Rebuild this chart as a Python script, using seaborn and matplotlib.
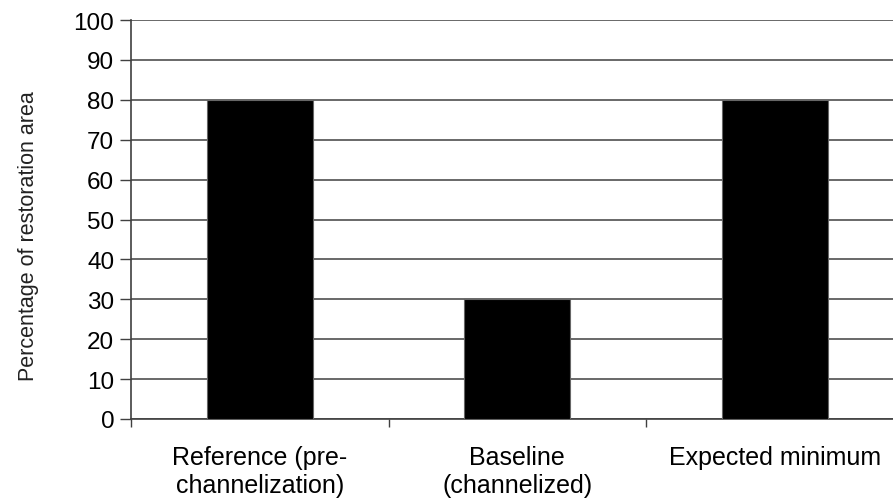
import matplotlib
matplotlib.use("Agg")
import matplotlib.pyplot as plt
import seaborn as sns
import pandas as pd

categories = ["Reference (pre-\nchannelization)", "Baseline\n(channelized)", "Expected minimum"]
values = [80, 30, 80]
y_ticks = [0, 10, 20, 30, 40, 50, 60, 70, 80, 90, 100]

sns.set_theme(style="white")
plt.rcParams['font.family'] = ['Liberation Sans', 'DejaVu Sans']

df = pd.DataFrame({"cat": categories, "val": values})

fig = plt.figure(figsize=(8.93, 5.02), dpi=100)
W, H = 893, 502
ax = fig.add_axes([131 / W, (H - 420) / H, 772.5 / W, 399 / H])

sns.barplot(data=df, x="cat", y="val", color="black", width=0.41, ax=ax,
            saturation=1, edgecolor="#666666", linewidth=0.8, zorder=3)

ax.set_ylim(0, 100)
ax.set_xlim(-0.5, 2.5)
ax.set_yticks(y_ticks)
ax.set_yticklabels([str(t) for t in y_ticks], fontsize=17.5, color="black")
ax.yaxis.grid(True, color="#404040", linewidth=1.1, zorder=0)
ax.set_axisbelow(True)

ax.set_xticks([0, 1, 2])
ax.set_xticklabels(categories, fontsize=18, linespacing=1.2, color="black")
ax.set_xticks([-0.5, 0.5, 1.5, 2.5], minor=True)
ax.tick_params(axis="x", which="major", length=0, pad=19)
ax.tick_params(axis="x", which="minor", length=6, width=1, color="#404040", bottom=True)
ax.tick_params(axis="y", which="major", length=8, width=1, color="#404040", left=True, pad=4)

for s in ["top", "right"]:
    ax.spines[s].set_visible(False)
for s in ["left", "bottom"]:
    ax.spines[s].set_color("#404040")
    ax.spines[s].set_linewidth(1.2)

ax.set_xlabel("")
ax.set_ylabel("Percentage of restoration area", fontsize=15.5, color="#222222")
ax.yaxis.set_label_coords(-92 / 772.5, (420 - 236) / 399)

fig.savefig("out.png", dpi=100)
